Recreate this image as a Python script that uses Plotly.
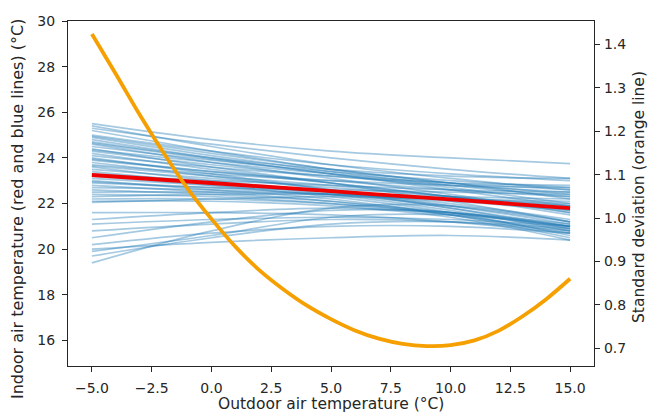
import plotly.graph_objects as go

# Outdoor temperatures at which each curve is evaluated
outdoor_t = [-5.0, 0.0, 5.0, 10.0, 15.0]

# Indoor temperature curves of the individual buildings (°C) at outdoor_t
building_curves = [
    [25.5, 24.8, 24.3, 24.0, 23.75],
    [25.4, 24.5, 23.7, 23.1, 22.6],
    [25.3, 24.6, 24.0, 23.5, 23.1],
    [25.2, 24.3, 23.5, 22.9, 22.4],
    [25.0, 24.3, 23.7, 23.3, 23.0],
    [24.95, 24.2, 23.5, 22.9, 22.2],
    [24.9, 24.1, 23.4, 22.8, 22.3],
    [24.8, 24.0, 23.3, 22.6, 21.9],
    [24.7, 24.0, 23.5, 23.2, 23.1],
    [24.65, 23.95, 23.3, 22.7, 22.0],
    [24.6, 23.8, 23.1, 22.4, 21.6],
    [24.5, 23.9, 23.4, 23.0, 22.7],
    [24.4, 23.6, 22.9, 22.1, 21.2],
    [24.35, 23.8, 23.3, 22.9, 22.6],
    [24.3, 23.7, 23.2, 22.8, 22.5],
    [24.2, 23.5, 22.9, 22.3, 21.7],
    [24.1, 23.6, 23.2, 22.9, 22.8],
    [24.0, 23.3, 22.6, 21.8, 20.9],
    [23.95, 23.4, 22.9, 22.3, 21.5],
    [23.9, 23.4, 23.0, 22.6, 22.3],
    [23.8, 23.2, 22.6, 21.9, 21.1],
    [23.7, 23.3, 23.0, 22.8, 22.7],
    [23.65, 23.2, 22.8, 22.3, 21.6],
    [23.6, 23.0, 22.5, 21.8, 21.0],
    [23.5, 23.1, 22.7, 22.3, 21.9],
    [23.4, 22.9, 22.4, 21.7, 20.8],
    [23.3, 23.0, 22.8, 22.6, 22.5],
    [23.25, 22.9, 22.5, 22.0, 21.3],
    [23.2, 22.8, 22.3, 21.6, 20.6],
    [23.1, 22.8, 22.5, 22.2, 21.9],
    [23.0, 22.6, 22.2, 21.5, 20.5],
    [22.95, 22.7, 22.4, 21.9, 21.2],
    [22.9, 22.7, 22.6, 22.5, 22.4],
    [22.8, 22.5, 22.1, 21.5, 20.7],
    [22.7, 22.6, 22.4, 22.1, 21.7],
    [22.6, 22.4, 22.1, 21.6, 20.9],
    [22.5, 22.5, 22.4, 22.2, 22.0],
    [22.4, 22.3, 22.0, 21.5, 20.8],
    [22.3, 22.4, 22.4, 22.3, 22.2],
    [22.2, 22.2, 22.0, 21.6, 21.0],
    [22.1, 22.1, 21.9, 21.4, 20.4],
    [22.05, 22.2, 22.3, 22.2, 22.1],
    [21.6, 21.6, 21.5, 21.2, 20.7],
    [21.3, 21.6, 21.8, 21.6, 21.1],
    [21.1, 21.3, 21.4, 21.3, 21.0],
    [20.8, 21.1, 21.3, 21.2, 20.8],
    [20.5, 21.2, 21.7, 21.6, 21.0],
    [20.2, 20.7, 21.0, 21.0, 20.7],
    [20.0, 20.3, 20.5, 20.6, 20.4],
    [19.9, 20.6, 21.4, 21.5, 21.0],
    [19.7, 20.5, 21.1, 21.2, 20.9],
    [19.4, 20.8, 21.8, 21.9, 21.2],
]

# Mean indoor temperature (°C) at outdoor_t
mean_curve = [23.25, 22.9, 22.54, 22.18, 21.8]

# Standard deviation across buildings
sd_t = [-5, -4, -3, -2, -1, 0, 1, 2, 3, 4, 5, 6, 7, 8, 9, 10, 11, 12, 13, 14, 15]
sd_values = [1.424, 1.332, 1.238, 1.150, 1.068, 0.998, 0.934, 0.880, 0.836, 0.798,
             0.767, 0.741, 0.722, 0.710, 0.705, 0.707, 0.718, 0.740, 0.773, 0.813, 0.860]

x_ticks = [-5.0, -2.5, 0.0, 2.5, 5.0, 7.5, 10.0, 12.5, 15.0]
left_ticks = [16, 18, 20, 22, 24, 26, 28, 30]
right_ticks = [0.7, 0.8, 0.9, 1.0, 1.1, 1.2, 1.3, 1.4]

FONT = "DejaVu Sans"
TXT = "#262626"
AX = "#262626"

# plot-area box in pixels
L, R, T, B = 68, 594, 21, 366
W, H = 649, 416
PW, PH = R - L, B - T

fig = go.Figure()

for curve in building_curves:
    fig.add_trace(go.Scatter(
        x=outdoor_t, y=curve, mode="lines",
        line=dict(color="rgba(31,119,180,0.4)", width=1.7, shape="spline", smoothing=1.0),
        hoverinfo="skip", showlegend=False,
    ))

fig.add_trace(go.Scatter(
    x=outdoor_t, y=mean_curve, mode="lines",
    line=dict(color="#ee0000", width=3.8, shape="spline"),
    showlegend=False,
))

fig.add_trace(go.Scatter(
    x=sd_t, y=sd_values, mode="lines", yaxis="y2",
    line=dict(color="#f5a000", width=3.8, shape="spline"),
    showlegend=False,
))

axis_common = dict(
    showgrid=False, zeroline=False, showline=True, linecolor=AX, linewidth=1.2,
    ticks="outside", ticklen=5, tickwidth=1.1, tickcolor=AX,
    tickfont=dict(family=FONT, size=14, color=TXT),
)

fig.update_layout(
    width=W, height=H,
    margin=dict(l=L, r=W - R, t=T, b=H - B),
    paper_bgcolor="white", plot_bgcolor="white",
    xaxis=dict(range=[-6, 16], tickvals=x_ticks, tickformat=".1f", mirror=True,
               ticklabelstandoff=4, **axis_common),
    yaxis=dict(range=[14.88, 30], tickvals=left_ticks, ticklabelstandoff=4, **axis_common),
    yaxis2=dict(range=[0.659, 1.454], tickvals=right_ticks, tickformat=".1f",
                overlaying="y", side="right", ticklabelstandoff=1, **axis_common),
    annotations=[
        dict(text="Outdoor air temperature (°C)", xref="paper", yref="paper",
             x=0.5, y=(B - 404) / PH, xanchor="center", yanchor="middle", showarrow=False,
             font=dict(family=FONT, size=15.5, color=TXT)),
        dict(text="Indoor air temperature (red and blue lines) (°C)", xref="paper", yref="paper",
             x=(17 - L) / PW, y=(B - 209) / PH, textangle=-90, xanchor="center", yanchor="middle",
             showarrow=False, font=dict(family=FONT, size=16, color=TXT)),
        dict(text="Standard deviation (orange line)", xref="paper", yref="paper",
             x=(639 - L) / PW, y=(B - 197) / PH, textangle=-90, xanchor="center", yanchor="middle",
             showarrow=False, font=dict(family=FONT, size=15.5, color=TXT)),
    ],
)

fig.write_html("out.html")
